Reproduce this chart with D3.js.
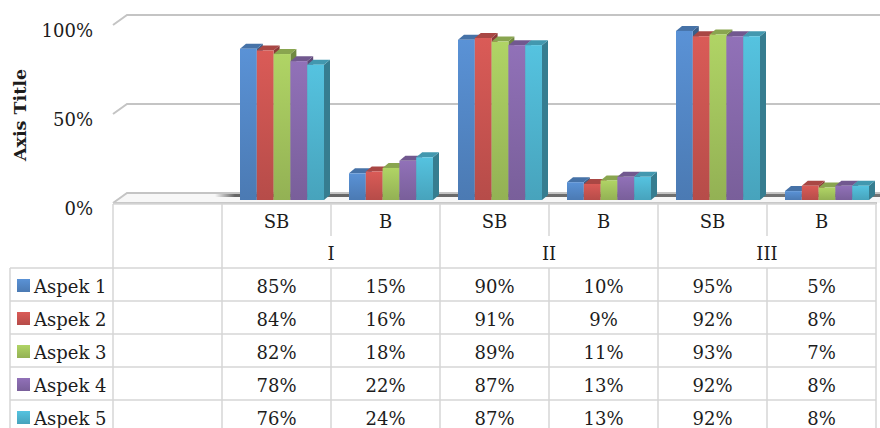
<!DOCTYPE html>
<html lang="en">
<head>
    <meta charset="UTF-8">
    <title>3D Column Chart with Data Table | D3</title>
    <style>
        body { margin: 0; background: #fff; }
        text { font-family: "DejaVu Serif", serif; fill: #1c1c1c; }
    </style>
</head>
<body>
    <div class="graph-container"></div>

    <script src="https://d3js.org/d3.v7.min.js"></script>
    <script>
        // Categories: first column is an empty category (as in the source table)
        var categories = ["", "SB", "B", "SB", "B", "SB", "B"];
        var groupNames = ["I", "II", "III"];
        var seriesNames = ["Aspek 1", "Aspek 2", "Aspek 3", "Aspek 4", "Aspek 5"];

        var aspek1 = [null, 0.85, 0.15, 0.90, 0.10, 0.95, 0.05];
        var aspek2 = [null, 0.84, 0.16, 0.91, 0.09, 0.92, 0.08];
        var aspek3 = [null, 0.82, 0.18, 0.89, 0.11, 0.93, 0.07];
        var aspek4 = [null, 0.78, 0.22, 0.87, 0.13, 0.92, 0.08];
        var aspek5 = [null, 0.76, 0.24, 0.87, 0.13, 0.92, 0.08];

        var yTicks = [0, 0.5, 1];
        var colors = ["#4F81BD", "#C0504D", "#9BBB59", "#8064A2", "#4BACC6"];

        var series = [aspek1, aspek2, aspek3, aspek4, aspek5];

        var width = 880, height = 428;
        var plotLeft = 113, plotRight = 876;
        var depthX = 14, depthY = -10;   // back wall offset
        var barShift = 7;                // bars stand half way into the floor
        var topDX = 6, topDY = -5;       // bar thickness

        var svg = d3.select(".graph-container")
            .append("svg")
            .attr("width", width)
            .attr("height", height);

        var defs = svg.append("defs");

        colors.forEach(function(c, i) {
            var g = defs.append("linearGradient")
                .attr("id", "grad" + i)
                .attr("x1", 0).attr("y1", 0).attr("x2", 0).attr("y2", 1);
            g.append("stop").attr("offset", "0%").attr("stop-color", d3.color(c).brighter(0.35));
            g.append("stop").attr("offset", "100%").attr("stop-color", d3.color(c).darker(0.15));
        });

        var shadow = defs.append("linearGradient")
            .attr("id", "floorShadow")
            .attr("x1", 0).attr("y1", 0).attr("x2", 1).attr("y2", 0);
        shadow.append("stop").attr("offset", "0%").attr("stop-color", "#555").attr("stop-opacity", 0);
        shadow.append("stop").attr("offset", "3%").attr("stop-color", "#555").attr("stop-opacity", 0.9);
        shadow.append("stop").attr("offset", "100%").attr("stop-color", "#666").attr("stop-opacity", 0.9);

        // Scales
        var x = d3.scaleBand()
            .domain(d3.range(categories.length))
            .range([plotLeft, plotRight]);

        var xInner = d3.scaleBand()
            .domain(d3.range(series.length))
            .range([18, 102]);

        // back wall scale
        var y = d3.scaleLinear()
            .domain([0, 1])
            .range([193, 15]);

        // Gridlines on side + back wall
        svg.append("g")
            .attr("class", "grid")
            .selectAll("polyline")
            .data(yTicks.filter(function(d) { return d > 0; }))
            .enter()
                .append("polyline")
                .attr("points", function(d) {
                    return [plotLeft, y(d) - depthY] + " " + [plotLeft + depthX, y(d)] + " " + [width, y(d)];
                })
                .attr("fill", "none")
                .attr("stroke", "#c4c4c4")
                .attr("stroke-width", 2);

        // Floor
        var floor = svg.append("g").attr("class", "floor");
        floor.append("polygon")
            .attr("points", [
                [plotLeft, y(0) - depthY],
                [plotLeft + depthX, y(0)],
                [width, y(0)],
                [width, y(0) - depthY]
            ].join(" "))
            .attr("fill", "#f7f7f7");
        floor.append("rect")
            .attr("x", x(1) - 7)
            .attr("y", y(0))
            .attr("width", width - x(1) + 7)
            .attr("height", 4)
            .attr("fill", "url(#floorShadow)");
        floor.append("polyline")
            .attr("points", [plotLeft, y(0) - depthY] + " " + [plotLeft + depthX, y(0)] + " " + [width, y(0)])
            .attr("fill", "none")
            .attr("stroke", "#c4c4c4")
            .attr("stroke-width", 2);
        floor.append("line")
            .attr("x1", plotLeft).attr("x2", plotRight + 1)
            .attr("y1", y(0) - depthY).attr("y2", y(0) - depthY)
            .attr("stroke", "#c8c8c8")
            .attr("stroke-width", 2);

        // Y tick labels
        svg.append("g")
            .attr("class", "y-labels")
            .selectAll("text")
            .data(yTicks)
            .enter()
                .append("text")
                .attr("x", 93)
                .attr("y", function(d) { return y(d) - depthY + 5; })
                .attr("text-anchor", "end")
                .attr("dominant-baseline", "central")
                .style("font-size", "18px")
                .text(d3.format(".0%"));

        // Axis title
        svg.append("text")
            .attr("transform", "translate(20,115) rotate(-90)")
            .attr("text-anchor", "middle")
            .attr("dominant-baseline", "central")
            .style("font-size", "17.5px")
            .style("font-weight", "bold")
            .text("Axis Title");

        // Bars (left to right so right bars cover left side faces)
        var bars = [];
        categories.forEach(function(cat, ci) {
            series.forEach(function(s, si) {
                if (s[ci] != null) bars.push({ ci: ci, si: si, v: s[ci] });
            });
        });

        var barG = svg.append("g").attr("class", "bars")
            .selectAll("g")
            .data(bars)
            .enter()
                .append("g");

        function bx(d) { return x(d.ci) + xInner(d.si); }
        function by(d) { return y(d.v) + barShift; }
        var bw = xInner.bandwidth();
        var base = y(0) + barShift;

        barG.append("polygon")   // side face
            .attr("points", function(d) {
                var x1 = bx(d) + bw, t = by(d);
                return [[x1, t], [x1 + topDX, t + topDY], [x1 + topDX, base + topDY], [x1, base]].join(" ");
            })
            .attr("fill", function(d) { return d3.color(colors[d.si]).darker(0.9); });

        barG.append("polygon")   // top face
            .attr("points", function(d) {
                var x0 = bx(d), t = by(d);
                return [[x0, t], [x0 + topDX, t + topDY], [x0 + bw + topDX, t + topDY], [x0 + bw, t]].join(" ");
            })
            .attr("fill", function(d) { return d3.color(colors[d.si]).darker(0.35); });

        barG.append("rect")      // front face
            .attr("x", bx)
            .attr("y", by)
            .attr("width", bw)
            .attr("height", function(d) { return base - by(d); })
            .attr("fill", function(d) { return "url(#grad" + d.si + ")"; });

        // Data table
        var table = svg.append("g").attr("class", "data-table");
        var tTop = 204, hRow = 32, rowH = 33;
        var dataTop = tTop + 2 * hRow;
        var legendLeft = 10;
        var lineColor = "#d6d6d6";

        // horizontal lines
        table.append("line")
            .attr("x1", plotLeft).attr("x2", plotRight)
            .attr("y1", tTop).attr("y2", tTop)
            .attr("stroke", lineColor).attr("stroke-width", 1.5);
        table.selectAll("line.row")
            .data(d3.range(series.length))
            .enter()
                .append("line")
                .attr("class", "row")
                .attr("x1", legendLeft).attr("x2", plotRight)
                .attr("y1", function(i) { return dataTop + i * rowH; })
                .attr("y2", function(i) { return dataTop + i * rowH; })
                .attr("stroke", lineColor).attr("stroke-width", 1.5);

        // vertical lines: full-height ones at group edges, split ones between SB and B
        var fullEdges = [plotLeft, x(1), x(3), x(5), plotRight];
        table.selectAll("line.full")
            .data(fullEdges)
            .enter()
                .append("line")
                .attr("class", "full")
                .attr("x1", function(d) { return d; }).attr("x2", function(d) { return d; })
                .attr("y1", tTop).attr("y2", height)
                .attr("stroke", lineColor).attr("stroke-width", 1.5);
        table.selectAll("line.split")
            .data([2, 4, 6])
            .enter()
                .append("line")
                .attr("class", "split")
                .attr("x1", function(d) { return x(d); }).attr("x2", function(d) { return x(d); })
                .attr("y1", tTop).attr("y2", tTop + hRow)
                .attr("stroke", lineColor).attr("stroke-width", 1.5);
        table.selectAll("line.split2")
            .data([2, 4, 6])
            .enter()
                .append("line")
                .attr("class", "split2")
                .attr("x1", function(d) { return x(d); }).attr("x2", function(d) { return x(d); })
                .attr("y1", dataTop).attr("y2", height)
                .attr("stroke", lineColor).attr("stroke-width", 1.5);
        table.append("line")
            .attr("x1", legendLeft).attr("x2", legendLeft)
            .attr("y1", dataTop).attr("y2", height)
            .attr("stroke", lineColor).attr("stroke-width", 1.5);

        // header: categories
        table.selectAll("text.cat")
            .data(categories)
            .enter()
                .append("text")
                .attr("class", "cat")
                .attr("x", function(d, i) { return x(i) + x.bandwidth() / 2; })
                .attr("y", tTop + hRow / 2 + 1)
                .attr("text-anchor", "middle")
                .attr("dominant-baseline", "central")
                .style("font-size", "18px")
                .text(function(d) { return d; });

        // header: groups
        table.selectAll("text.grp")
            .data(groupNames)
            .enter()
                .append("text")
                .attr("class", "grp")
                .attr("x", function(d, i) { return x(1 + 2 * i + 1); })
                .attr("y", tTop + hRow * 1.5 + 1)
                .attr("text-anchor", "middle")
                .attr("dominant-baseline", "central")
                .style("font-size", "18px")
                .text(function(d) { return d; });

        // rows
        var rows = table.selectAll("g.srow")
            .data(series)
            .enter()
                .append("g")
                .attr("class", "srow")
                .attr("transform", function(d, i) { return "translate(0," + (dataTop + i * rowH + rowH / 2 + 1.5) + ")"; });

        rows.append("rect")
            .attr("x", 17).attr("y", -7)
            .attr("width", 13).attr("height", 13)
            .attr("fill", function(d, i) { return "url(#grad" + i + ")"; });

        rows.append("text")
            .attr("x", 34)
            .attr("dominant-baseline", "central")
            .style("font-size", "18px")
            .text(function(d, i) { return seriesNames[i]; });

        rows.selectAll("text.val")
            .data(function(d) { return d; })
            .enter()
                .append("text")
                .attr("class", "val")
                .attr("x", function(d, i) { return x(i) + x.bandwidth() / 2; })
                .attr("text-anchor", "middle")
                .attr("dominant-baseline", "central")
                .style("font-size", "18px")
                .text(function(d) { return d == null ? "" : d3.format(".0%")(d); });
    </script>
</body>
</html>
